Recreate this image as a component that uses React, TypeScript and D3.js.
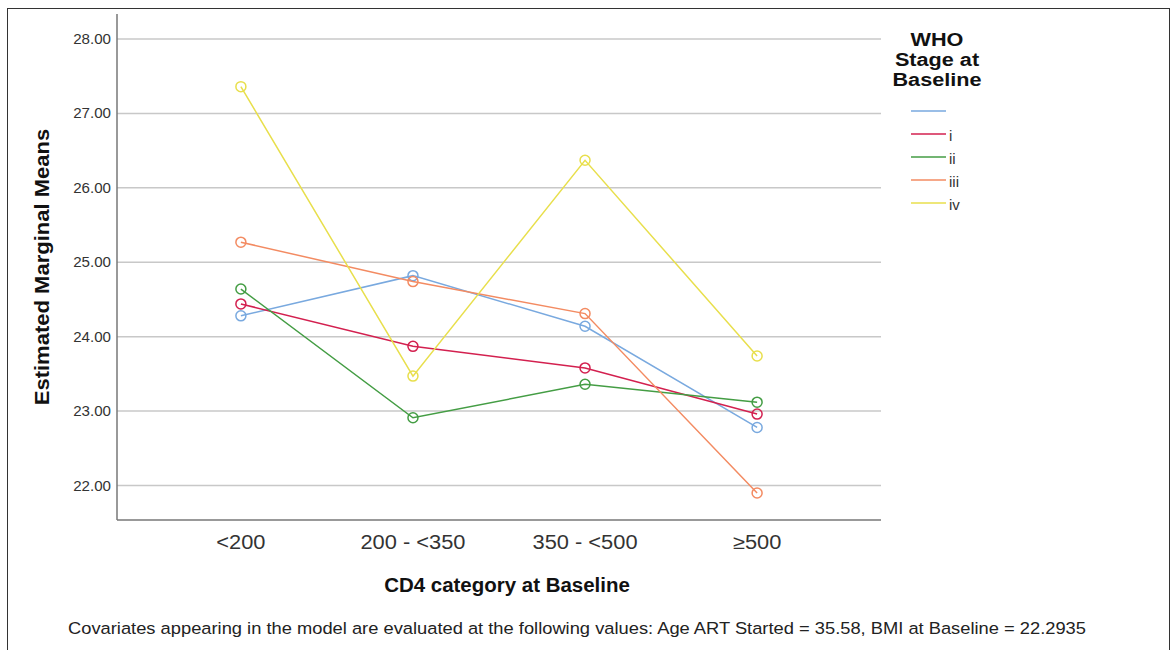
import React from "react";
import * as d3 from "d3";

const categories = ["<200", "200 - <350", "350 - <500", "\u2265500"];
const seriesNames = ["", "i", "ii", "iii", "iv"];
const seriesBlank = [24.28, 24.82, 24.14, 22.78];
const seriesI = [24.44, 23.87, 23.58, 22.96];
const seriesII = [24.64, 22.91, 23.36, 23.12];
const seriesIII = [25.27, 24.74, 24.31, 21.9];
const seriesIV = [27.36, 23.47, 26.37, 23.74];
const yTicks = [22, 23, 24, 25, 26, 27, 28];
const colors = ["#79a9df", "#d3204f", "#449d44", "#f38b62", "#e8df4c"];

const W = 1175;
const H = 650;
const FONT = "'Liberation Sans', Arial, sans-serif";

export default function App() {
  const allSeries = [seriesBlank, seriesI, seriesII, seriesIII, seriesIV];
  const x = d3.scalePoint<string>().domain(categories).range([117, 881]).padding(0.72);
  const y = d3.scaleLinear().domain([22, 28]).range([485.5, 39]);
  const line = d3
    .line<number>()
    .x((_, i) => x(categories[i]) as number)
    .y((d) => y(d));
  const plotLeft = 117;
  const plotRight = 881;
  const axisBottom = 520;
  const legendY = d3.scalePoint<string>().domain(seriesNames).range([111, 203]);

  return (
    <svg
      width={W}
      height={H}
      style={{ position: "absolute", left: 0, top: 0, background: "#fff" }}
      fontFamily={FONT}
    >
      <rect x={7.5} y={8.5} width={1162} height={700} fill="#fff" stroke="#333" strokeWidth={1} />
      {yTicks.map((t) => (
        <g key={t}>
          <line x1={plotLeft} x2={plotRight} y1={y(t)} y2={y(t)} stroke="#c8c8c8" strokeWidth={1.5} />
          <text
            transform={`translate(111,${y(t) + 5}) scale(1.08,1)`}
            textAnchor="end"
            fontSize={14}
            fill="#333"
          >
            {t.toFixed(2)}
          </text>
        </g>
      ))}
      <line x1={plotLeft} x2={plotLeft} y1={14} y2={axisBottom} stroke="#777" strokeWidth={1.5} />
      <line x1={plotLeft} x2={plotRight} y1={axisBottom} y2={axisBottom} stroke="#777" strokeWidth={1.5} />
      {categories.map((c) => (
        <text
          key={c}
          transform={`translate(${x(c)},549) scale(1.12,1)`}
          textAnchor="middle"
          fontSize={19.5}
          fill="#333"
        >
          {c}
        </text>
      ))}
      {allSeries.map((s, si) => (
        <g key={si}>
          <path d={line(s) || ""} fill="none" stroke={colors[si]} strokeWidth={1.5} />
          {s.map((v, i) => (
            <circle
              key={i}
              cx={x(categories[i])}
              cy={y(v)}
              r={5}
              fill="none"
              stroke={colors[si]}
              strokeWidth={1.5}
            />
          ))}
        </g>
      ))}
      <text
        transform={`translate(49,267) rotate(-90) scale(1.13,1)`}
        textAnchor="middle"
        fontSize={19.5}
        fontWeight="bold"
        fill="#111"
      >
        Estimated Marginal Means
      </text>
      <text
        transform={`translate(507,592) scale(1.05,1)`}
        textAnchor="middle"
        fontSize={19.5}
        fontWeight="bold"
        fill="#111"
      >
        CD4 category at Baseline
      </text>
      <text
        transform={`translate(577,634) scale(1.11,1)`}
        textAnchor="middle"
        fontSize={16.5}
        fill="#222"
      >
        Covariates appearing in the model are evaluated at the following values: Age ART Started = 35.58, BMI at Baseline = 22.2935
      </text>
      <g fontWeight="bold" fontSize={19} fill="#111" textAnchor="middle">
        <text transform="translate(937,46) scale(1.14,1)">WHO</text>
        <text transform="translate(937,66) scale(1.14,1)">Stage at</text>
        <text transform="translate(937,86) scale(1.14,1)">Baseline</text>
      </g>
      {seriesNames.map((n, i) => (
        <g key={i}>
          <line
            x1={911}
            x2={946}
            y1={legendY(n)}
            y2={legendY(n)}
            stroke={colors[i]}
            strokeWidth={1.5}
          />
          <text x={949} y={(legendY(n) as number) + 7} fontSize={15} fill="#333">
            {n}
          </text>
        </g>
      ))}
    </svg>
  );
}
